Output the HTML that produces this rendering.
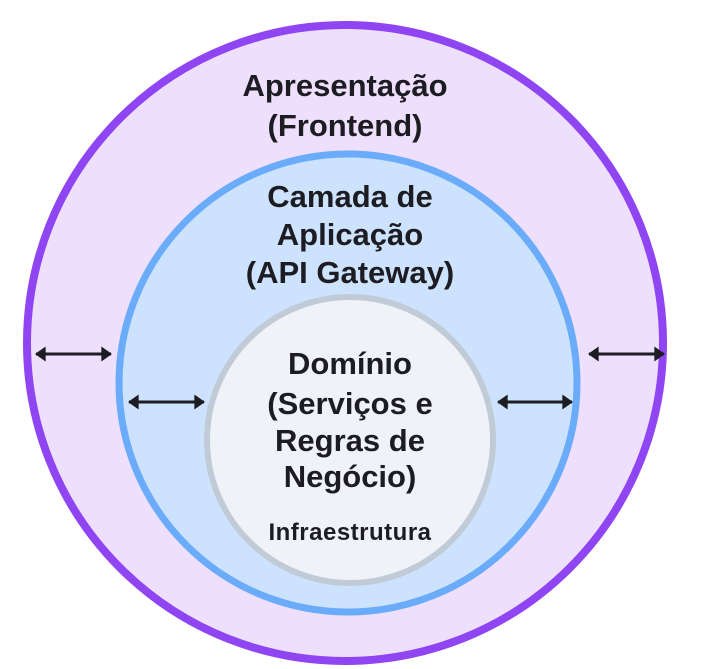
<!DOCTYPE html>
<html><head><meta charset="utf-8"><style>
html,body{margin:0;padding:0;background:#fff;}
svg{display:block;}
text{font-family:"Liberation Sans",sans-serif;font-weight:bold;fill:#1c1c22;text-anchor:middle;}
</style></head><body>
<svg width="706" height="669" viewBox="0 0 706 669" xmlns="http://www.w3.org/2000/svg">
<defs>
<marker id="a" viewBox="0 0 10 14" refX="9" refY="7" markerWidth="11" markerHeight="15" markerUnits="userSpaceOnUse" orient="auto-start-reverse">
<path d="M0,0 L10,7 L0,14 z" fill="#1c1c22"/></marker>
</defs>
<circle cx="345" cy="343" r="318" fill="#eee0fd" stroke="#8f45f2" stroke-width="8"/>
<circle cx="348" cy="383" r="229" fill="#cde3fd" stroke="#6aabfa" stroke-width="7"/>
<circle cx="350" cy="440" r="143" fill="#eff2f7" stroke="#c1cbd8" stroke-width="6"/>
<g font-size="31">
<text x="345" y="96">Apresentação</text>
<text x="345" y="136">(Frontend)</text>
<text x="350" y="207">Camada de</text>
<text x="350" y="245">Aplicação</text>
<text x="350" y="283">(API Gateway)</text>
<text x="350" y="374">Domínio</text>
<text x="350" y="414">(Serviços e</text>
<text x="350" y="451">Regras de</text>
<text x="350" y="487">Negócio)</text>
</g>
<text x="350" y="540" font-size="24" letter-spacing="0.5">Infraestrutura</text>
<g stroke="#1c1c22" stroke-width="3" marker-start="url(#a)" marker-end="url(#a)">
<line x1="36" y1="354" x2="111" y2="354"/>
<line x1="129" y1="402" x2="204" y2="402"/>
<line x1="498" y1="402" x2="572" y2="402"/>
<line x1="589" y1="354" x2="664" y2="354"/>
</g>
</svg>
</body></html>
